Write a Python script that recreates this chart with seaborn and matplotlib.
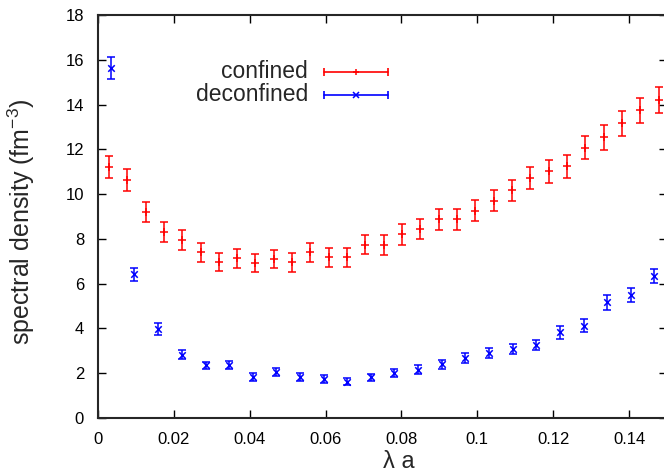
import matplotlib
matplotlib.use("Agg")
import matplotlib.pyplot as plt
import seaborn as sns
import pandas as pd

# confined points (lambda a, density, error)
conf_x = [0.0029, 0.0077, 0.0126, 0.0174, 0.0222, 0.0271, 0.0319, 0.0367, 0.0415, 0.0464,
          0.0512, 0.0560, 0.0609, 0.0657, 0.0705, 0.0753, 0.0802, 0.0850, 0.0898, 0.0947,
          0.0995, 0.1043, 0.1092, 0.1140, 0.1188, 0.1237, 0.1285, 0.1333, 0.1382, 0.1430, 0.1478]
conf_y = [11.2, 10.63, 9.2, 8.29, 7.95, 7.40, 6.95, 7.13, 6.93, 7.10,
          6.95, 7.41, 7.17, 7.17, 7.74, 7.72, 8.2, 8.45, 8.87, 8.88,
          9.26, 9.70, 10.18, 10.74, 11.01, 11.25, 12.07, 12.53, 13.16, 13.74, 14.2]
conf_err = [0.5, 0.5, 0.45, 0.45, 0.43, 0.42, 0.40, 0.41, 0.41, 0.42,
            0.41, 0.42, 0.42, 0.42, 0.42, 0.44, 0.46, 0.45, 0.46, 0.47,
            0.47, 0.47, 0.47, 0.49, 0.5, 0.51, 0.52, 0.54, 0.55, 0.55, 0.57]

# deconfined points
deconf_x = [0.0034, 0.0096, 0.0159, 0.0221, 0.0284, 0.0346, 0.0408, 0.0470, 0.0532, 0.0595,
            0.0657, 0.0719, 0.0781, 0.0844, 0.0906, 0.0968, 0.1030, 0.1093, 0.1155, 0.1217,
            0.1280, 0.1342, 0.1404, 0.1466]
deconf_y = [15.64, 6.41, 3.97, 2.83, 2.35, 2.37, 1.83, 2.05, 1.83, 1.74,
            1.62, 1.82, 1.99, 2.16, 2.40, 2.68, 2.90, 3.08, 3.26, 3.83,
            4.12, 5.16, 5.49, 6.35]
deconf_err = [0.48, 0.31, 0.26, 0.21, 0.17, 0.19, 0.16, 0.19, 0.16, 0.16,
              0.15, 0.16, 0.18, 0.2, 0.21, 0.21, 0.22, 0.22, 0.23, 0.28,
              0.28, 0.33, 0.31, 0.32]

x_ticks = [0, 0.02, 0.04, 0.06, 0.08, 0.1, 0.12, 0.14]
x_ticklabels = ["0", "0.02", "0.04", "0.06", "0.08", "0.1", "0.12", "0.14"]
y_ticks = [0, 2, 4, 6, 8, 10, 12, 14, 16, 18]

df_conf = pd.DataFrame({"x": conf_x, "y": conf_y, "err": conf_err})
df_deconf = pd.DataFrame({"x": deconf_x, "y": deconf_y, "err": deconf_err})

sns.set_theme(style="ticks")
plt.rcParams["font.family"] = ["Liberation Sans", "DejaVu Sans"]
plt.rcParams["mathtext.default"] = "regular"

fig = plt.figure(figsize=(6.64, 4.72), dpi=100)
ax = fig.add_axes([98 / 664, 54 / 472, 569 / 664, 403 / 472])

# error bars
ax.errorbar(df_conf["x"], df_conf["y"], yerr=df_conf["err"], fmt="none",
            ecolor="red", elinewidth=1.1, capsize=3, capthick=1.1)
ax.errorbar(df_deconf["x"], df_deconf["y"], yerr=df_deconf["err"], fmt="none",
            ecolor="blue", elinewidth=1.1, capsize=3, capthick=1.1)

# point markers
sns.scatterplot(data=df_conf, x="x", y="y", marker="+", s=30, color="red",
                linewidth=1.1, ax=ax, legend=False)
sns.scatterplot(data=df_deconf, x="x", y="y", marker="x", s=22, color="blue",
                linewidth=1.1, ax=ax, legend=False)

ax.set_xlim(0, 0.15)
ax.set_ylim(0, 18)
ax.set_xticks(x_ticks)
ax.set_xticklabels(x_ticklabels)
ax.set_yticks(y_ticks)
ax.tick_params(direction="in", top=True, right=True, length=6, width=1,
               labelsize=12, pad=10, colors="black")
for sp in ax.spines.values():
    sp.set_linewidth(1.5)
    sp.set_visible(True)

ax.set_xlabel("λ a", fontsize=17)
ax.set_ylabel("spectral density (fm$^{-3}$)", fontsize=18)
ax.xaxis.set_label_coords(0.529, -0.082)
ax.yaxis.set_label_coords(-0.107, 0.486)

# gnuplot-style key
key = [("confined", "red", "+", 0.8586), ("deconfined", "blue", "x", 0.8015)]
for label, col, mk, yk in key:
    ax.text(0.369, yk, label, transform=ax.transAxes, ha="right", va="center", fontsize=16.5)
    ax.plot([0.397, 0.5097], [yk, yk], color=col, lw=1.2, transform=ax.transAxes)
    ax.plot([0.397, 0.5097], [yk, yk], color=col, ls="none", marker="|", ms=6,
            mew=1.2, transform=ax.transAxes)
    ax.plot([0.4534], [yk], color=col, ls="none", marker=mk, ms=5, mew=1.1,
            transform=ax.transAxes)

fig.savefig("out.png", dpi=100)
